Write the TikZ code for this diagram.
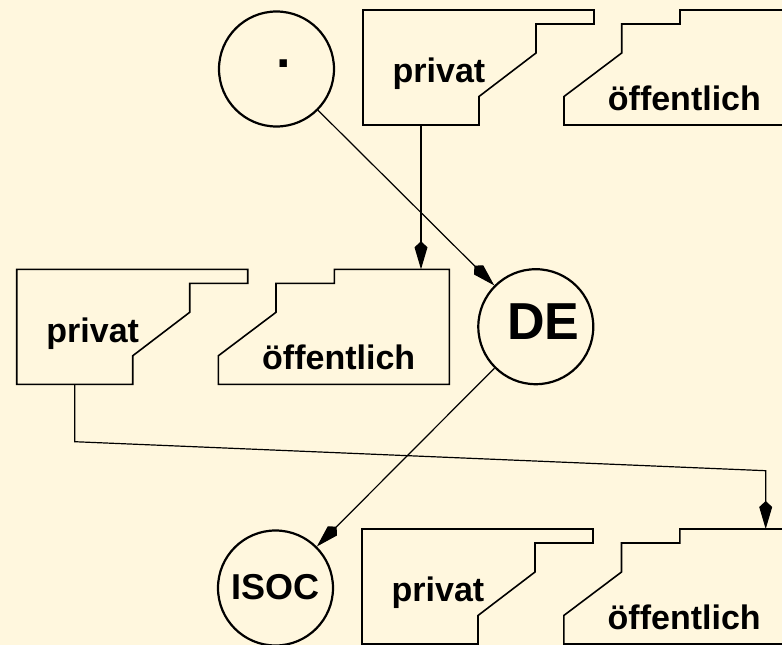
\documentclass[tikz,border=0pt]{standalone}
\usepackage{fontspec}
\setmainfont{Liberation Sans}
\usetikzlibrary{arrows.meta,calc}

\definecolor{paper}{RGB}{255,247,222}

\tikzset{
  stepline/.style={draw=black, line width=1.6pt, line join=miter},
  ringnode/.style={circle, draw=black, line width=2.2pt, minimum size=115pt, inner sep=0pt},
  linkarrow/.style={draw=black, line width=1.2pt, line join=miter,
    -{Kite[length=28pt,width=13pt,inset=6pt]}},
  tagtext/.style={font=\fontsize{34}{38}\selectfont\bfseries, inner sep=0pt},
  stepframe/.style={minimum width=231pt, minimum height=115pt, inner sep=0pt,
    outer sep=0pt, anchor=north west},
}

% "privat" block: frame with a stepped notch on its right side
\newcommand\privatblock[3]{%
  \node[stepframe] (#1) at (#2,#3) {};
  \draw[stepline, shift={(#1.north west)}]
    (0,0) -- (231,0) -- (231,14) -- (173,14) -- (173,43) -- (116,86.5)
    -- (116,115) -- (0,115) -- cycle;
  \node[tagtext] (#1-text) at ($(#1.north west)+(76,64)$) {privat};
  \coordinate (#1-out) at ($(#1.north west)+(58,115)$);
}

% "öffentlich" block: the complementary stepped frame
\newcommand\oeffblock[3]{%
  \node[stepframe] (#1) at (#2,#3) {};
  \draw[stepline, shift={(#1.north west)}]
    (0,86.5) -- (57.7,43) -- (57.7,14) -- (116,14) -- (116,0) -- (231,0)
    -- (231,115) -- (0,115) -- cycle;
  \node[tagtext] (#1-text) at ($(#1.north west)+(120.4,88)$) {öffentlich};
}

\begin{document}
\begin{tikzpicture}[x=1pt,y=-1pt]
  \fill[paper] (0,0) rectangle (782,645);
  \useasboundingbox (0,0) rectangle (782,645);
  \clip (0,0) rectangle (782,645);

  % root zone
  \node[ringnode] (root) at (276.5,69) {};
  \node[font=\fontsize{52}{56}\selectfont\bfseries, inner sep=0pt] (root-text) at (284,64) {.};
  \privatblock{pA}{363}{10}
  \oeffblock{oA}{564}{10}

  % DE zone
  \privatblock{pB}{16.7}{269.3}
  \oeffblock{oB}{218.3}{269.3}
  \node[ringnode] (de) at (535.8,326.7) {};
  \node[font=\fontsize{52}{56}\selectfont\bfseries, inner sep=0pt] (de-text) at (543.3,322) {DE};

  % ISOC zone
  \node[ringnode] (isoc) at (275.5,588) {};
  \node[font=\fontsize{36}{40}\selectfont\bfseries, inner sep=0pt] (isoc-text) at (275.8,587.3) {ISOC};
  \privatblock{pC}{362}{529}
  \oeffblock{oC}{563.8}{529}

  % connectors
  \coordinate (bendA) at (74.7,441.7);
  \coordinate (bendB) at (765.7,470.7);
  \draw[linkarrow] (root) -- (de);
  \draw[linkarrow] (pA-out) -- (pA-out |- oB.north);
  \draw[linkarrow] (de) -- (isoc);
  \draw[linkarrow] (pB-out) -- (bendA) -- (bendB) -- (bendB |- oC.north);
\end{tikzpicture}
\end{document}
